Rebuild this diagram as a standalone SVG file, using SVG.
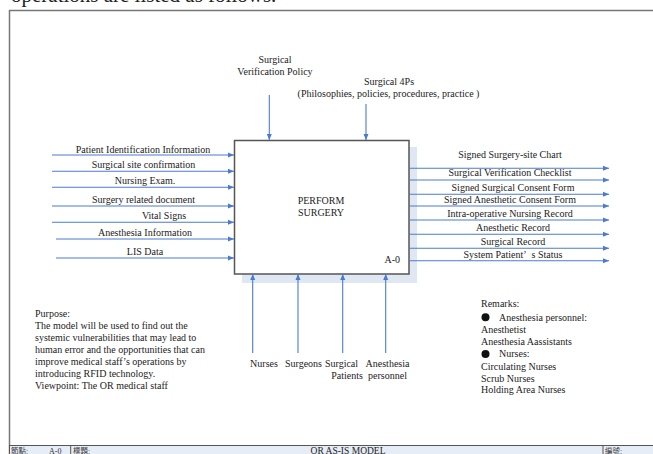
<svg xmlns="http://www.w3.org/2000/svg" width="653" height="454" viewBox="0 0 653 454">
<style>
text{font-family:"Liberation Serif","Times New Roman",serif;font-size:10px;fill:#222}
.m{text-anchor:middle}
.cjk{font-family:"Liberation Serif","Noto Sans CJK TC",serif;font-size:7.5px;fill:#333}
.arr{stroke:#4a7bd0;stroke-width:1.1;fill:none;marker-end:url(#ah)}
</style>
<defs>
<marker id="ah" markerUnits="userSpaceOnUse" markerWidth="6" markerHeight="6" refX="6" refY="3" orient="auto">
<path d="M0,0.5 L6,3 L0,5.5 z" fill="#4a7bd0"/>
</marker>
</defs>
<rect width="653" height="454" fill="#ffffff"/>
<text x="11" y="1.5" style="font-size:21px">operations are listed as follows.</text>
<g id="frame">
<path d="M9.5,454 V10.5 H660" fill="none" stroke="#777" stroke-width="1.5"/>
<rect x="9.5" y="445.5" width="650" height="10" fill="#e7edf7" stroke="#555" stroke-width="1"/>
<line x1="70.7" y1="445.5" x2="70.7" y2="454" stroke="#555" stroke-width="1"/>
<line x1="603" y1="445.5" x2="603" y2="454" stroke="#555" stroke-width="1"/>
<text class="cjk" x="11" y="453.5">節點:</text>
<text class="cjk" x="49" y="453.5" style="font-size:8px">A-0</text>
<text class="cjk" x="73" y="453.5">標題:</text>
<text x="348" y="454" class="m" style="font-size:9.5px">OR AS-IS MODEL</text>
<text class="cjk" x="605" y="453.5">編號:</text>
</g>
<g id="node-a0">
<rect x="242" y="147" width="175" height="136" fill="#dfe7f3"/>
<rect x="234.5" y="140.5" width="174.5" height="133.5" fill="#ffffff" stroke="#555" stroke-width="1.5"/>
<text x="321" y="204" class="m">PERFORM</text>
<text x="321" y="215.7" class="m">SURGERY</text>
<text x="400" y="263" style="text-anchor:end">A-0</text>
</g>
<g id="connectors">
<line class="arr" x1="269.3" y1="95" x2="269.3" y2="140"/>
<line class="arr" x1="366" y1="104" x2="366" y2="140"/>
<line class="arr" x1="52" y1="155" x2="234" y2="155"/>
<line class="arr" x1="52" y1="171.3" x2="234" y2="171.3"/>
<line class="arr" x1="52" y1="187.3" x2="234" y2="187.3"/>
<line class="arr" x1="52" y1="206" x2="234" y2="206"/>
<line class="arr" x1="52" y1="222.3" x2="234" y2="222.3"/>
<line class="arr" x1="56" y1="239" x2="234" y2="239"/>
<line class="arr" x1="56" y1="258" x2="234" y2="258"/>
<line class="arr" x1="410" y1="168.3" x2="609" y2="168.3"/>
<line class="arr" x1="410" y1="180" x2="609" y2="180"/>
<line class="arr" x1="410" y1="194.3" x2="609" y2="194.3"/>
<line class="arr" x1="410" y1="206" x2="609" y2="206"/>
<line class="arr" x1="410" y1="220" x2="609" y2="220"/>
<line class="arr" x1="410" y1="234.3" x2="609" y2="234.3"/>
<line class="arr" x1="410" y1="248.3" x2="609" y2="248.3"/>
<line class="arr" x1="410" y1="260.7" x2="609" y2="260.7"/>
<line class="arr" x1="252.7" y1="353" x2="252.7" y2="274"/>
<line class="arr" x1="298" y1="353" x2="298" y2="274"/>
<line class="arr" x1="342.7" y1="353" x2="342.7" y2="274"/>
<line class="arr" x1="385.7" y1="353" x2="385.7" y2="274"/>
</g>
<g id="controls">
<text x="275" y="63.3" class="m">Surgical</text>
<text x="275" y="75" class="m">Verification Policy</text>
<text x="389" y="85" class="m">Surgical 4Ps</text>
<text x="388.5" y="96.7" class="m">(Philosophies, policies, procedures, practice )</text>
</g>
<g id="inputs">
<text x="143" y="152.5" class="m">Patient Identification Information</text>
<text x="143.5" y="167.7" class="m">Surgical site confirmation</text>
<text x="145" y="184" class="m">Nursing Exam.</text>
<text x="143.5" y="202.7" class="m">Surgery related document</text>
<text x="164" y="219.3" class="m">Vital Signs</text>
<text x="145" y="236" class="m">Anesthesia Information</text>
<text x="145" y="255" class="m">LIS Data</text>
</g>
<g id="outputs">
<text x="510" y="158.3" class="m">Signed Surgery-site Chart</text>
<text x="510" y="176" class="m">Surgical Verification Checklist</text>
<text x="513" y="190.7" class="m">Signed Surgical Consent Form</text>
<text x="510" y="202.7" class="m">Signed Anesthetic Consent Form</text>
<text x="510" y="216.7" class="m">Intra-operative Nursing Record</text>
<text x="513" y="231" class="m">Anesthetic Record</text>
<text x="513" y="245" class="m">Surgical Record</text>
<text x="513" y="257.7" class="m">System Patient’&#160;&#160;s Status</text>
</g>
<g id="mechanisms">
<text x="264" y="366.7" class="m">Nurses</text>
<text x="303.5" y="366.7" class="m">Surgeons</text>
<text x="341.5" y="366.7" class="m">Surgical</text>
<text x="347" y="378.7" class="m">Patients</text>
<text x="387.5" y="366.7" class="m">Anesthesia</text>
<text x="387.5" y="378.7" class="m">personnel</text>
</g>
<g id="purpose">
<text x="35" y="316.7">Purpose:</text>
<text x="35" y="328.7">The model will be used to find out the</text>
<text x="35" y="340.7">systemic vulnerabilities that may lead to</text>
<text x="35" y="352.7">human error and the opportunities that can</text>
<text x="35" y="364.7">improve medical staff’s operations by</text>
<text x="35" y="376.7">introducing RFID technology.</text>
<text x="35" y="388.7">Viewpoint: The OR medical staff</text>
</g>
<g id="remarks">
<text x="481" y="306.7">Remarks:</text>
<circle cx="485.5" cy="317.3" r="4" fill="#111"/>
<text x="499" y="320.7">Anesthesia personnel:</text>
<text x="481" y="333.3">Anesthetist</text>
<text x="481" y="345">Anesthesia Aassistants</text>
<circle cx="485.5" cy="354" r="4" fill="#111"/>
<text x="499" y="357.3">Nurses:</text>
<text x="481" y="370">Circulating Nurses</text>
<text x="481" y="381.7">Scrub Nurses</text>
<text x="481" y="393.3">Holding Area Nurses</text>
</g>
</svg>
